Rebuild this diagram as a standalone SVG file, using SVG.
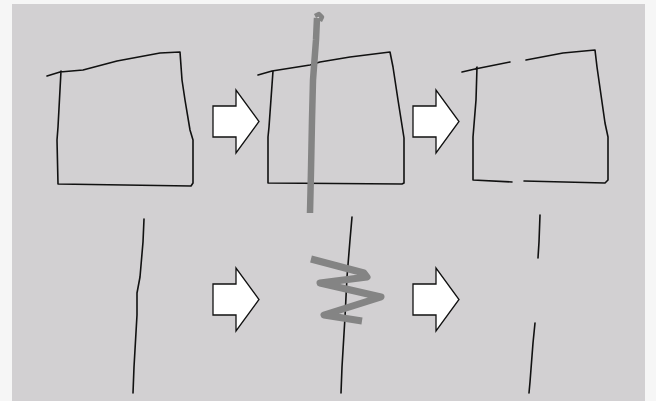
<svg xmlns="http://www.w3.org/2000/svg" width="656" height="401" viewBox="0 0 656 401">
<defs>
<path id="arr" d="M0,-15.5 H23 V-31.5 L46,0 L23,31.5 V15.5 H0 Z"/>
<style>
.ink{fill:none;stroke:#111;stroke-width:1.6;stroke-linejoin:round;stroke-linecap:round}
.gray{fill:none;stroke:#848484;stroke-linejoin:round}
.arrow{fill:#fff;stroke:#111;stroke-width:1.3;stroke-linejoin:miter}
</style>
</defs>
<rect x="0" y="0" width="656" height="401" fill="#f6f6f6"/>
<rect x="12" y="4" width="633" height="397" fill="#d2d0d2"/>

<g id="box-original">
<path class="ink" d="M47,76 L60,72 L83,70 L117,61 L160,53 L180,52 L182,80 L185,100 L190,130 L193,140 L193,183 L191,186 L58,184 L57,140 L58,127 L61,71"/>
</g>
<g id="box-cut">
<path class="ink" d="M258,75 L272,71 L310,65 L320,62 L350,57 L390,52 L393,67 L398,100 L404,138 L404,183 L402,184 L268,183 L268,137 L269,127 L273,71"/>
<path class="gray" stroke-width="6.5" d="M310,213 L311,170 L312,120 L313,80 L316,40 L317,18"/>
<path class="gray" stroke-width="4.5" d="M315,16 L319,14 L322,17 L320,21"/>
</g>
<g id="box-result">
<path class="ink" d="M462,72 L475,69 L510,62"/>
<path class="ink" d="M526,60 L563,53 L595,50 L597,67 L605,123 L608,137 L608,180 L605,183 L524,181"/>
<path class="ink" d="M512,182 L473,180 L473,137 L476,100 L477,67 L476,69"/>
</g>

<g id="line-original">
<path class="ink" d="M144,219 L143,242 L140,277 L137,293 L137,315 L134,367 L133,393"/>
</g>
<g id="line-scribble">
<path class="ink" d="M352,217 L350,240 L347,277 L345,317 L342,367 L341,393"/>
<path class="gray" stroke-width="7" d="M311,259 L364,273 L367,277 L320,283 L381,297 L324,315 L362,321"/>
</g>
<g id="line-result">
<path class="ink" d="M540,215 L539,242 L538,258"/>
<path class="ink" d="M535,323 L533,343 L530,382 L529,393"/>
</g>

<g id="connectors">
<use href="#arr" class="arrow" x="213" y="121.5"/>
<use href="#arr" class="arrow" x="413" y="121.5"/>
<use href="#arr" class="arrow" x="213" y="299.5"/>
<use href="#arr" class="arrow" x="413" y="299.5"/>
</g>
</svg>
